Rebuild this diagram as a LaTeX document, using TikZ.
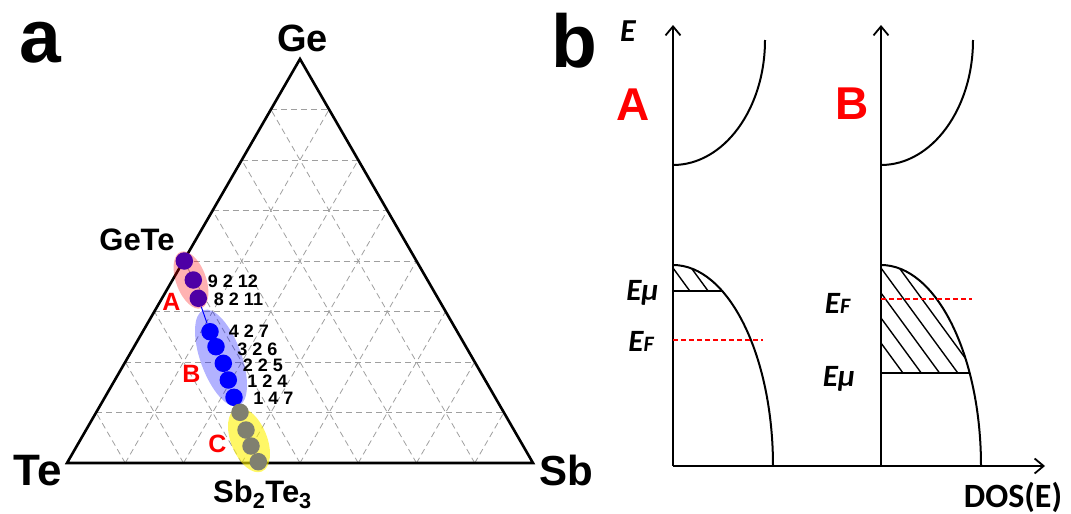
\documentclass[tikz,border=0pt]{standalone}
\usepackage{fontspec}
\setmainfont{Liberation Sans}
\newfontfamily\calib{Carlito}
\usetikzlibrary{arrows.meta,calc,shapes.geometric}

\definecolor{gtpurple}{RGB}{78,0,165}
\definecolor{gtgray}{RGB}{128,128,112}
\newcommand{\fsz}[1]{\fontsize{#1}{#1}\selectfont}

\begin{document}
\begin{tikzpicture}[x=1pt,y=-1pt,
  txt/.style={anchor=base,inner sep=0pt,font=\bfseries},
  grd/.style={gray!75,line width=0.8pt,dash pattern=on 6pt off 4pt},
  tri/.style={line width=2.6pt},
  dot/.style={circle,inner sep=0pt,minimum size=17.5pt,fill=#1},
  zone/.style={ellipse,inner sep=0pt,fill=#1},
  num/.style={txt,font=\fsz{18}\bfseries},
  zlab/.style={txt,text=red,font=\fsz{25}\bfseries},
  ax/.style={line width=1.8pt,-{Straight Barb[length=9pt,width=15pt]}},
  band/.style={line width=2pt},
  hatch/.style={line width=1.4pt},
  fermi/.style={red,line width=1.6pt,dash pattern=on 5pt off 3pt},
  elab/.style={txt,font=\calib\fsz{31}\bfseries\itshape}]
 \useasboundingbox (0,0) rectangle (1071,514);
 % panel a
 \coordinate (Te) at (67,463);
 \coordinate (Sb) at (533,463);
 \coordinate (Ge) at (300,59);
 \foreach \k in {1,...,7} {
   \draw[grd] ($(Te)!\k/8!(Ge)$) -- ($(Sb)!\k/8!(Ge)$);
   \draw[grd] ($(Te)!\k/8!(Sb)$) -- ($(Ge)!\k/8!(Sb)$);
   \draw[grd] ($(Sb)!\k/8!(Te)$) -- ($(Ge)!\k/8!(Te)$);
 }
 \draw[tri] (Te) -- (Sb) -- (Ge) -- cycle;
 \node[zone=red,fill opacity=0.3,rotate=-70,minimum width=60pt,minimum height=30pt] (zA) at (191,280) {};
 \node[zone=blue,fill opacity=0.3,rotate=-70,minimum width=102pt,minimum height=41pt] (zB) at (221,358) {};
 \node[zone=yellow,fill opacity=0.6,rotate=-68,minimum width=68pt,minimum height=36pt] (zC) at (249,440) {};
 \foreach \n/\x/\y in {a1/184.3/261,a2/193.3/280,a3/198.3/298.3}
   \node[dot=gtpurple] (\n) at (\x,\y) {};
 \foreach \n/\x/\y in {b1/210/331.7,b2/216/346.7,b3/223.3/363.3,b4/228.3/380,b5/234/397.3}
   \node[dot=blue] (\n) at (\x,\y) {};
 \foreach \n/\x/\y in {c1/240/412.3,c2/246/430,c3/251/446,c4/258.3/461.7}
   \node[dot=gtgray] (\n) at (\x,\y) {};
 \draw[blue,line width=1pt] (a3) -- (b1);
 \node[txt,font=\fsz{75}\bfseries] (pa) at (40,62) {a};
 \node[txt,font=\fsz{38}\bfseries] (lGe) at (302.5,51.7) {Ge};
 \node[txt,font=\fsz{44}\bfseries] (lTe) at (37.5,485) {Te};
 \node[txt,font=\fsz{42}\bfseries] (lSb) at (566,485) {Sb};
 \node[txt,font=\fsz{31}\bfseries] (lGT) at (137,250) {GeTe};
 \node[txt,font=\fsz{31}\bfseries] (lST) at (262.5,502) {Sb\textsubscript{2}Te\textsubscript{3}};
 \foreach \t/\x/\y in {9 2 12/233/287,8 2 11/238.5/305,4 2 7/249/337,3 2 6/257.5/355,2 2 5/263/371,1 2 4/267.5/387,1 4 7/273.5/404}
   \node[num] at (\x,\y) {\t};
 \node[zlab] (rA) at (171.5,310) {A};
 \node[zlab] (rB) at (191.5,382) {B};
 \node[zlab] (rC) at (217.5,452) {C};
 % panel b
 \coordinate (oA) at (673,466);
 \coordinate (oB) at (881,466);
 \coordinate (tA) at (673,25);
 \coordinate (tB) at (881,25);
 \coordinate (xe) at (1045,466);
 \draw[ax] (oA) -- (tA);
 \draw[ax] (oB) -- (tB);
 \draw[ax] (oA) -- (xe);
 \foreach \x/\m in {673/291,881/373} {
   \draw[band] (\x,165) .. controls (\x+50.8,165) and (\x+92,109) .. (\x+92,40);
   \draw[band] (\x,265) .. controls (\x+55.2,265) and (\x+100,355) .. (\x+100,466);
   \draw[band] (\x,\m) -- ({\x+100*sqrt(1-((466-\m)/201)^2)},\m);
   \begin{scope}
     \clip (\x,265) .. controls (\x+55.2,265) and (\x+100,355) .. (\x+100,466) -- (\x,466) -- cycle;
     \clip (\x,250) rectangle (\x+110,\m);
     \foreach \k in {-1,...,3}
       \draw[hatch] (\x,268+25*\k) -- ++(120,164);
   \end{scope}
 }
 \draw[fermi] (673,340) -- (763,340);
 \draw[fermi] (881,299) -- (972,299);
 \node[txt,font=\fsz{75}\bfseries] (pb) at (574,67) {b};
 \node[txt,font=\calib\fsz{32}\bfseries\itshape] (lE) at (628,41.7) {E};
 \node[txt,text=red,font=\fsz{46}\bfseries] (lA) at (633,120) {A};
 \node[txt,text=red,font=\fsz{46}\bfseries] (lB) at (852.5,119.5) {B};
 \node[elab] (muA) at (642.5,300) {Eμ};
 \node[elab] (fA) at (641,351.7) {E{\fsz{22}F}};
 \node[elab] (fB) at (837.5,313) {E{\fsz{22}F}};
 \node[elab] (muB) at (839,386.7) {Eμ};
 \node[txt,font=\calib\fsz{34}\bfseries] (dos) at (1013,507) {DOS(E)};
\end{tikzpicture}
\end{document}
